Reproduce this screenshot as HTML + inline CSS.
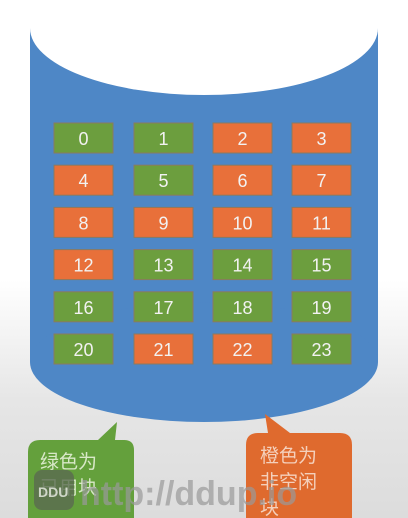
<!DOCTYPE html>
<html><head><meta charset="utf-8"><style>
html,body{margin:0;padding:0;width:408px;height:518px;overflow:hidden;background:linear-gradient(#fff 0,#fff 280px,#e6e6e6 400px,#dcdcdc 518px);font-family:"Liberation Sans","Noto Sans CJK SC",sans-serif}
</style></head><body>
<svg width="408" height="518">
<g>
<rect x="30" y="28" width="348" height="334" fill="#4e87c6"/>
<ellipse cx="204" cy="362" rx="174" ry="60" fill="#4e87c6"/>
<ellipse cx="204" cy="28" rx="174" ry="67" fill="#ffffff"/>
</g>
<g id="blocks"></g>
<g>
<path d="M40 440 L98 440 L117 422 L115 440 L124 440 Q134 440 134 450 L134 518 L28 518 L28 452 Q28 440 40 440Z" fill="#64a03c"/>
<text x="40" y="468" font-size="19" fill="#d8e8c8">绿色为</text>
<text x="40" y="494" font-size="19" fill="#d8e8c8">已用块</text>
</g>
<g>
<path d="M258 433 L268 433 L265 414 L290 433 L340 433 Q352 433 352 445 L352 518 L246 518 L246 445 Q246 433 258 433Z" fill="#df6a2e"/>
<text x="260" y="462" font-size="19" fill="#f4d0bc">橙色为</text>
<text x="260" y="488" font-size="19" fill="#f4d0bc">非空闲</text>
<text x="260" y="514" font-size="19" fill="#f4d0bc">块</text>
</g>
<g>
<rect x="34" y="470" width="40" height="40" rx="8" fill="#5a6a50" opacity="0.8"/>
<text x="38" y="497" font-size="14" font-weight="bold" fill="#cfd6c8">DDU</text>
<text x="80" y="505" font-size="34" font-weight="bold" fill="#9a9a9a" opacity="0.7">http://ddup.io</text>
</g>
</svg>
<script>
const blockIds=[0,1,2,3,4,5,6,7,8,9,10,11,12,13,14,15,16,17,18,19,20,21,22,23];
const blockUsed=[1,1,0,0,0,1,0,0,0,0,0,0,0,1,1,1,1,1,1,1,1,0,0,1];
const colX=[54,134,213,292];
const g=document.getElementById('blocks');
const ns='http://www.w3.org/2000/svg';
blockIds.forEach((id,i)=>{
  const c=i%4,r=Math.floor(i/4);
  const x=colX[c],y=123+r*42.2;
  const rect=document.createElementNS(ns,'rect');
  rect.setAttribute('x',x);rect.setAttribute('y',y);rect.setAttribute('width',59);rect.setAttribute('height',30);
  rect.setAttribute('fill',blockUsed[i]?'#6c9e3e':'#e8703a');
  rect.setAttribute('stroke','#8a7a60');rect.setAttribute('stroke-width','1');
  
  
  g.appendChild(rect);
  const t=document.createElementNS(ns,'text');
  t.setAttribute('x',x+29.5);t.setAttribute('y',y+22);t.setAttribute('text-anchor','middle');
  t.setAttribute('font-size','18');t.setAttribute('fill','#f2f2f2');
  t.textContent=id;
  
  
  g.appendChild(t);
});
</script>
</body></html>
